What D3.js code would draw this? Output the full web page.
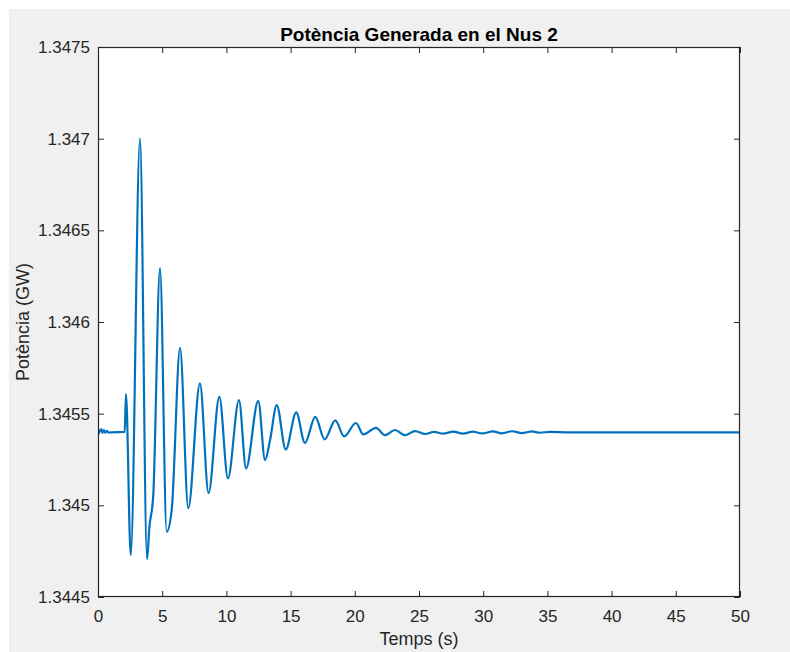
<!DOCTYPE html>
<html>
<head>
<meta charset="utf-8">
<script src="https://cdn.jsdelivr.net/npm/d3@7"></script>
<style>
  html, body { margin: 0; padding: 0; background: #ffffff; }
  svg { display: block; }
  text { font-family: "Liberation Sans", Arial, Helvetica, sans-serif; }
</style>
</head>
<body>
<div id="chart"></div>
<script>
// ---- data ----
const titleText = "Potència Generada en el Nus 2";
const xLabel = "Temps (s)";
const yLabel = "Potència (GW)";

const xTicks = [0, 5, 10, 15, 20, 25, 30, 35, 40, 45, 50];
const yTicks = [1.3445, 1.345, 1.3455, 1.346, 1.3465, 1.347, 1.3475];
const yTickLabels = ["1.3445", "1.345", "1.3455", "1.346", "1.3465", "1.347", "1.3475"];

const time = [
  0, 0.12, 0.25, 0.35, 0.45, 0.58, 0.7, 0.85, 1.0, 2.08, 2.18, 2.55, 3.27, 3.82, 4.0, 4.3, 4.83, 5.35, 5.74,
  6.39, 7.03, 7.94, 8.61, 9.45, 10.12, 10.98, 11.53, 12.48, 13.01, 13.4, 13.92,
  14.62, 15.44, 16.12, 16.92, 17.65, 18.48, 19.17, 20.09, 20.66, 21.65, 22.35,
  23.13, 23.91, 24.69, 25.47, 26.17, 26.89, 27.67, 28.42, 29.2, 29.9, 30.76,
  31.46, 32.24, 33.02, 33.8, 34.42, 35.2, 36.7, 50
];
const power = [
  1.345385, 1.345402, 1.345416, 1.345395, 1.345410, 1.345396, 1.345406, 1.345396, 1.345398,
  1.345400, 1.345607, 1.344729,
  1.347001, 1.344707, 1.344880, 1.345050, 1.346294, 1.344856, 1.344974,
  1.345859, 1.344984, 1.345665, 1.345067, 1.345592, 1.345147, 1.345574, 1.345202,
  1.345570, 1.345247, 1.345356, 1.345547, 1.345305, 1.345507, 1.345340, 1.345483,
  1.345360, 1.345463, 1.345376, 1.345449, 1.345387, 1.345423, 1.345383, 1.345411,
  1.345383, 1.345405, 1.345389, 1.345401, 1.345391, 1.345402, 1.345391, 1.345402,
  1.345392, 1.345403, 1.345393, 1.345404, 1.345394, 1.345403, 1.345396, 1.345401,
  1.345398, 1.345398
];

// ---- layout ----
const W = 790, H = 652;
const plot = { left: 98, right: 740, top: 47, bottom: 597 };
const axisColor = "#262626";
const lineColor = "#0072BD";

const svg = d3.select("#chart").append("svg")
  .attr("width", W).attr("height", H);

// figure background
svg.append("rect").attr("x", 9).attr("y", 9)
  .attr("width", W - 9).attr("height", H - 9)
  .attr("fill", "#f0f0f0");

const x = d3.scaleLinear().domain([0, 50]).range([plot.left, plot.right]);
const y = d3.scaleLinear().domain([1.3445, 1.3475]).range([plot.bottom, plot.top]);

// plot area
svg.append("rect")
  .attr("x", plot.left).attr("y", plot.top)
  .attr("width", plot.right - plot.left).attr("height", plot.bottom - plot.top)
  .attr("fill", "#ffffff");

// clip
svg.append("clipPath").attr("id", "clip").append("rect")
  .attr("x", plot.left).attr("y", plot.top)
  .attr("width", plot.right - plot.left).attr("height", plot.bottom - plot.top);

// data line
const data = time.map((t, i) => ({ t: t, v: power[i] }));
const line = d3.line().x(d => x(d.t)).y(d => y(d.v)).curve(d3.curveMonotoneX);
svg.append("path")
  .datum(data)
  .attr("clip-path", "url(#clip)")
  .attr("d", line)
  .attr("fill", "none")
  .attr("stroke", lineColor)
  .attr("stroke-width", 2.2)
  .attr("stroke-linejoin", "round");

// axes
const tickLen = 6;
const fontSize = 17;
const xAxisB = d3.axisBottom(x).tickValues(xTicks).tickSizeInner(-tickLen).tickSizeOuter(0)
  .tickPadding(13).tickFormat(d3.format("d"));
const xAxisT = d3.axisTop(x).tickValues(xTicks).tickSizeInner(-tickLen).tickSizeOuter(0)
  .tickFormat("");
const yAxisL = d3.axisLeft(y).tickValues(yTicks).tickSizeInner(-tickLen).tickSizeOuter(0)
  .tickPadding(8).tickFormat((d, i) => yTickLabels[i]);
const yAxisR = d3.axisRight(y).tickValues(yTicks).tickSizeInner(-tickLen).tickSizeOuter(0)
  .tickFormat("");

function styleAxis(g) {
  g.select(".domain").remove();
  g.selectAll("line").attr("stroke", axisColor).attr("stroke-width", 1);
  g.selectAll("text").attr("fill", axisColor)
    .style("font-size", fontSize + "px")
    .style("font-family", '"Liberation Sans", Arial, sans-serif');
}

svg.append("g").attr("transform", `translate(0,${plot.bottom})`).call(xAxisB).call(styleAxis);
svg.append("g").attr("transform", `translate(0,${plot.top})`).call(xAxisT).call(styleAxis);
svg.append("g").attr("transform", `translate(${plot.left},0)`).call(yAxisL).call(styleAxis);
svg.append("g").attr("transform", `translate(${plot.right},0)`).call(yAxisR).call(styleAxis);

// box
svg.append("rect")
  .attr("x", plot.left + 0.5).attr("y", plot.top + 0.5)
  .attr("width", plot.right - plot.left - 1).attr("height", plot.bottom - plot.top - 1)
  .attr("fill", "none").attr("stroke", axisColor).attr("stroke-width", 1.2);

// title
svg.append("text")
  .attr("x", (plot.left + plot.right) / 2).attr("y", 41)
  .attr("text-anchor", "middle")
  .attr("fill", "#000000")
  .style("font-size", "19px").style("font-weight", "bold")
  .text(titleText);

// x label
svg.append("text")
  .attr("x", (plot.left + plot.right) / 2).attr("y", 645)
  .attr("text-anchor", "middle")
  .attr("fill", axisColor)
  .style("font-size", "18px")
  .text(xLabel);

// y label
svg.append("text")
  .attr("transform", `translate(29,${(plot.top + plot.bottom) / 2}) rotate(-90)`)
  .attr("text-anchor", "middle")
  .attr("fill", axisColor)
  .style("font-size", "18px")
  .text(yLabel);
</script>
</body>
</html>
